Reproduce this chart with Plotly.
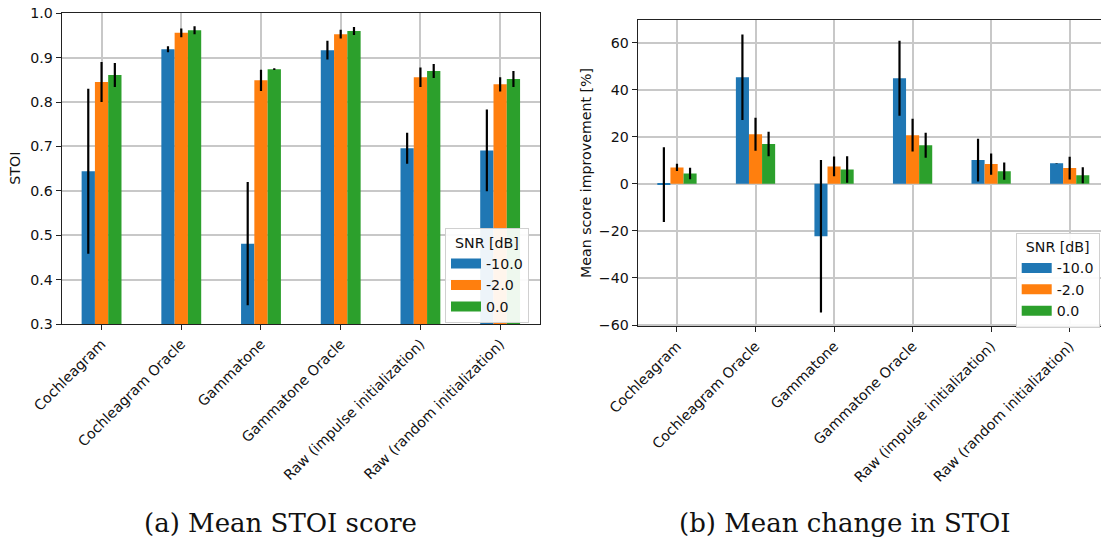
import plotly.graph_objects as go

# ---------------- data ----------------
categories = ["Cochleagram", "Cochleagram Oracle", "Gammatone", "Gammatone Oracle",
              "Raw (impulse initialization)", "Raw (random initialization)"]
snr_labels = ["-10.0", "-2.0", "0.0"]

stoi_m10 = [0.644, 0.919, 0.481, 0.917, 0.696, 0.691]
stoi_m10_err = [0.186, 0.007, 0.139, 0.021, 0.035, 0.092]
stoi_m2 = [0.845, 0.956, 0.849, 0.953, 0.856, 0.840]
stoi_m2_err = [0.045, 0.010, 0.024, 0.010, 0.022, 0.016]
stoi_0 = [0.861, 0.962, 0.874, 0.960, 0.870, 0.852]
stoi_0_err = [0.027, 0.009, 0.002, 0.009, 0.016, 0.018]

imp_m10 = [-0.3, 45.3, -22.3, 44.9, 10.1, 8.8]
imp_m10_err = [15.9, 18.2, 32.4, 15.9, 9.1, 0.1]
imp_m2 = [7.0, 21.1, 7.4, 20.7, 8.4, 6.7]
imp_m2_err = [1.5, 7.0, 4.2, 7.0, 4.5, 4.8]
imp_0 = [4.4, 16.9, 6.1, 16.4, 5.4, 3.7]
imp_0_err = [2.4, 5.2, 5.6, 5.3, 3.7, 3.4]

# ---------------- style ----------------
colors = ["#1f77b4", "#ff7f0e", "#2ca02c"]
FONT = "DejaVu Sans"
FS = 14.2
W, H = 1101, 540

left_series = [(stoi_m10, stoi_m10_err), (stoi_m2, stoi_m2_err), (stoi_0, stoi_0_err)]
right_series = [(imp_m10, imp_m10_err), (imp_m2, imp_m2_err), (imp_0, imp_0_err)]

fig = go.Figure()

for i, ((vals, errs), name, col) in enumerate(zip(left_series, snr_labels, colors)):
    fig.add_trace(go.Bar(
        x=categories, y=vals, name=name, xaxis="x", yaxis="y",
        marker=dict(color=col, line=dict(width=0)),
        error_y=dict(type="data", array=errs, visible=True, color="black",
                     thickness=2.2, width=0),
        showlegend=False, offsetgroup=str(i)))
for i, ((vals, errs), name, col) in enumerate(zip(right_series, snr_labels, colors)):
    fig.add_trace(go.Bar(
        x=categories, y=vals, name=name, xaxis="x2", yaxis="y2",
        marker=dict(color=col, line=dict(width=0)),
        error_y=dict(type="data", array=errs, visible=True, color="black",
                     thickness=2.2, width=0),
        showlegend=False, offsetgroup=str(i)))

# legend entries (wide patch style like matplotlib)
for name, col in zip(snr_labels, colors):
    fig.add_trace(go.Scatter(x=[None], y=[None], mode="lines", name=name,
                             line=dict(color=col, width=10),
                             xaxis="x", yaxis="y", legend="legend", hoverinfo="skip"))
for name, col in zip(snr_labels, colors):
    fig.add_trace(go.Scatter(x=[None], y=[None], mode="lines", name=name,
                             line=dict(color=col, width=10),
                             xaxis="x2", yaxis="y2", legend="legend2", hoverinfo="skip"))

tickfont = dict(family=FONT, size=FS, color="#111111")
common_x = dict(type="category", tickangle=-45, ticks="outside", ticklen=5,
                tickcolor="#222222", tickwidth=1.2, showline=True, linecolor="#222222",
                linewidth=1.3, mirror=True, showgrid=True, gridcolor="#c8c8c8",
                gridwidth=1.5, tickfont=tickfont, zeroline=False)
common_y = dict(ticks="outside", ticklen=5, tickcolor="#222222", tickwidth=1.2,
                showline=True, linecolor="#222222", linewidth=1.3, showgrid=True,
                gridcolor="#c8c8c8", gridwidth=1.5, tickfont=tickfont, zeroline=False)

x1d = [61.7 / W, 540 / W]
y1d = [1 - 324 / H, 1 - 13.3 / H]
x2d = [637.7 / W, 1.0]
y2d = [1 - 326.3 / H, 1 - 20 / H]

legend_common = dict(
    bgcolor="rgba(255,255,255,0.92)", bordercolor="#d0d0d0", borderwidth=1,
    font=dict(family=FONT, size=FS, color="#111111"),
    itemwidth=30, tracegroupgap=0, xanchor="left", yanchor="top",
    title=dict(text="SNR [dB]", side="top center", font=dict(family=FONT, size=FS, color="#111111")),
)

fig.update_layout(
    width=W, height=H, template="none",
    paper_bgcolor="white", plot_bgcolor="white",
    margin=dict(l=0, r=0, t=0, b=0, pad=0, autoexpand=False),
    barmode="group", bargap=0.5, bargroupgap=0,
    font=dict(family=FONT, size=FS, color="#111111"),
    xaxis=dict(domain=x1d, anchor="y", range=[-0.5, 5.5], **common_x),
    yaxis=dict(domain=y1d, anchor="x", range=[0.3, 1.0], tick0=0.3, dtick=0.1,
               tickformat=".1f", mirror=True, **common_y),
    xaxis2=dict(domain=x2d, anchor="y2", range=[-0.5, (W - 677.3) / 78.48], **common_x),
    yaxis2=dict(domain=y2d, anchor="x2", range=[-60.55, 69.65], tick0=0, dtick=20,
                mirror=False, **common_y),
    legend=dict(x=445 / W, y=1 - 228.3 / H, **legend_common),
    legend2=dict(x=1015.7 / W, y=1 - 232.7 / H, **legend_common),
    annotations=[
        dict(text="STOI", x=15 / W, y=1 - 168.7 / H, xref="paper", yref="paper",
             textangle=-90, showarrow=False, xanchor="center", yanchor="middle",
             font=dict(family=FONT, size=FS, color="#111111")),
        dict(text="Mean score improvement [%]", x=586 / W, y=1 - 173 / H,
             xref="paper", yref="paper", textangle=-90, showarrow=False,
             xanchor="center", yanchor="middle",
             font=dict(family=FONT, size=FS, color="#111111")),
        dict(text="(a) Mean STOI score", x=280.3 / W, y=1 - 522.5 / H, xref="paper",
             yref="paper", showarrow=False, xanchor="center", yanchor="middle",
             font=dict(family="DejaVu Serif", size=26, color="#111111")),
        dict(text="(b) Mean change in STOI", x=845.4 / W, y=1 - 522.5 / H, xref="paper",
             yref="paper", showarrow=False, xanchor="center", yanchor="middle",
             font=dict(family="DejaVu Serif", size=26, color="#111111")),
    ],
)

fig.write_html("out.html")
